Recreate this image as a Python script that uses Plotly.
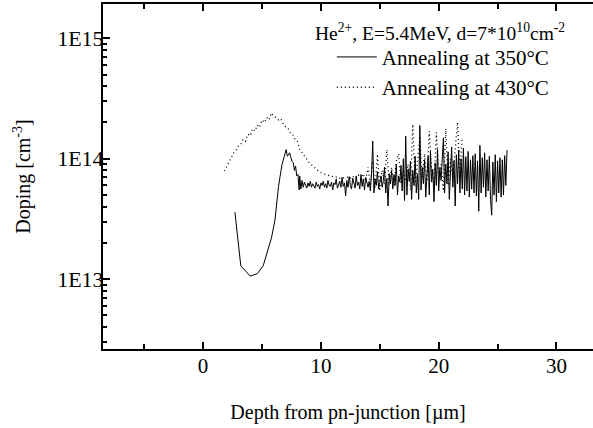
import numpy as np
import plotly.graph_objects as go

# ---- data (doping in units of 1E13 cm^-3) ----
# 350 C, smooth beginning
x350_start = [2.7, 3.2, 4.0, 4.6, 5.1, 5.8, 6.1, 6.4, 6.7, 6.9, 7.05, 7.15, 7.25,
              7.35, 7.45, 7.55, 7.65, 7.75, 7.85, 7.95, 8.05, 8.15]
y350_start = [3.6, 1.29, 1.06, 1.11, 1.29, 2.2, 3.1, 5.9, 9.0, 10.5, 11.9, 10.5, 10.9,
              11.2, 10.2, 9.5, 9.3, 8.0, 8.7, 7.2, 7.4, 5.5]
# 350 C, noisy tail sampled every 0.1 um from 8.2 um
x350_tail_start, x350_tail_step = 8.2, 0.1
y350_tail = [
    7.2, 5.6, 6.6, 5.8, 6.4, 6.0, 5.7, 6.3, 5.9, 6.5,
    5.8, 6.2, 6.0, 5.7, 6.4, 5.9, 6.1, 5.6, 6.3, 6.0,
    6.5, 5.8, 6.2, 5.7, 6.6, 6.0, 5.9, 6.4, 5.5, 6.3,
    6.1, 6.8, 5.7, 6.2, 6.5, 5.8, 7.0, 5.9, 6.3, 4.9,
    6.6, 5.8, 7.1, 6.0, 5.6, 6.9, 6.2, 5.7, 7.2, 6.0,
    6.4, 5.6, 7.4, 5.9, 6.8, 5.5, 7.0, 6.2, 5.8, 6.5,
    5.4, 7.6, 14.0, 5.2, 6.8, 6.0, 7.8, 5.6, 6.4, 7.2,
    5.8, 6.6, 8.5, 5.2, 6.9, 4.05, 7.5, 6.2, 8.0, 5.6,
    7.4, 6.0, 9.0, 5.0, 7.2, 6.4, 8.8, 5.4, 10.0, 4.5,
    15.4, 5.0, 8.2, 6.5, 9.5, 4.6, 8.0, 6.0, 10.5, 5.2,
    7.5, 4.6, 18.9, 5.5, 8.5, 6.2, 9.8, 4.8, 7.2, 10.5,
    5.0, 11.5, 6.4, 8.2, 4.4, 9.2, 6.0, 12.0, 5.4, 8.4,
    6.6, 10.2, 14.9, 5.2, 9.0, 6.2, 11.4, 4.6, 8.4, 12.5,
    5.8, 9.6, 4.05, 10.8, 6.2, 11.8, 5.2, 10.0, 5.6, 12.2,
    5.0, 10.4, 5.4, 11.5, 4.8, 9.8, 5.6, 10.6, 5.2, 11.0,
    4.9, 9.6, 3.67, 12.9, 5.2, 10.2, 5.8, 11.2, 4.8, 9.8,
    5.4, 10.5, 4.6, 3.4, 9.4, 5.0, 10.8, 4.4, 9.6, 5.2,
    10.2, 4.8, 9.8, 5.0, 10.6, 6.0, 11.8,
]
# 430 C, sampled every 0.2 um from 1.8 um
x430_start, x430_step = 1.8, 0.2
y430 = [
    7.9, 8.6, 9.4, 10.2, 11.2, 11.8, 12.8, 13.2, 14.5, 14.0,
    16.0, 15.5, 17.8, 17.0, 19.0, 18.2, 21.0, 20.0, 22.0, 21.0,
    24.0, 22.5, 22.0, 21.0, 21.5, 19.5, 18.5, 18.0, 16.5, 16.0,
    14.5, 14.0, 12.0, 11.2, 10.5, 9.8, 9.3, 8.9, 8.5, 8.2,
    7.9, 7.7, 7.5, 7.4, 7.3, 7.2, 7.2, 7.0, 7.1, 6.9,
    7.0, 6.9, 7.0, 7.1, 6.8, 7.2, 6.9, 7.3, 6.8, 7.5,
    6.5, 8.5, 6.0, 9.5, 5.8, 10.9, 5.4, 8.0, 6.2, 11.9,
    6.0, 8.5, 5.8, 9.5, 11.0, 6.2, 8.0, 6.5, 9.0, 5.5,
    19.3, 6.0, 9.5, 14.9, 7.0, 11.0, 6.5, 16.9, 8.0, 6.2,
    16.5, 7.5, 9.0, 5.4, 17.8, 6.0, 10.0, 7.0, 12.0, 20.1,
    7.5, 15.0,
]

title_text = "He<sup>2+</sup>, E=5.4MeV, d=7*10<sup>10</sup>cm<sup>-2</sup>"
names = ["Annealing at 350°C", "Annealing at 430°C"]
ytick_vals = [1e13, 1e14, 1e15]
ytick_text = ["1E13", "1E14", "1E15"]
xtick_vals = [0, 10, 20, 30]

unit = 1e13
x350 = list(x350_start) + [round(x350_tail_start + i * x350_tail_step, 2) for i in range(len(y350_tail))]
y350 = [v * unit for v in list(y350_start) + y350_tail]
x430 = [round(x430_start + i * x430_step, 2) for i in range(len(y430))]
y430v = [v * unit for v in y430]

FONT = "Liberation Serif, Times New Roman, serif"

fig = go.Figure()
fig.add_trace(go.Scatter(x=x350, y=y350, mode="lines", name=names[0],
                         line=dict(color="black", width=1)))
fig.add_trace(go.Scatter(x=x430, y=y430v, mode="lines", name=names[1],
                         line=dict(color="black", width=1.3, dash="1px,3px")))

minor_y = [m * 10 ** e for e in (12, 13, 14, 15) for m in range(2, 10)]

fig.update_layout(
    width=593, height=428,
    margin=dict(l=103, r=0, t=4, b=79, autoexpand=False),
    paper_bgcolor="white", plot_bgcolor="white",
    font=dict(family=FONT, size=20, color="black"),
    showlegend=True,
    legend=dict(x=0.467, y=0.905, xanchor="left", yanchor="top",
                bgcolor="rgba(0,0,0,0)", borderwidth=0,
                font=dict(family=FONT, size=21, color="black"), itemwidth=40,
                tracegroupgap=0),
    annotations=[dict(text=title_text, xref="paper", yref="paper",
                      x=0.687, y=0.918, xanchor="center", yanchor="middle",
                      showarrow=False, font=dict(family=FONT, size=19.5))],
)
fig.update_xaxes(
    range=[-8.5, 33.1], showgrid=False, zeroline=False, automargin=False,
    showline=True, linecolor="black", linewidth=2, mirror="ticks",
    ticks="inside", ticklen=7, tickwidth=1.5, tickcolor="black",
    tickvals=xtick_vals, ticklabelstandoff=-3,
    minor=dict(ticks="inside", ticklen=5, tickwidth=1.5, dtick=5, tick0=0, tickcolor="black"),
    tickfont=dict(family=FONT, size=21),
    title=dict(text="Depth from pn-junction [µm]", font=dict(family=FONT, size=20), standoff=28),
)
fig.update_yaxes(
    type="log", range=[12.42, 15.285], showgrid=False, zeroline=False, automargin=False,
    showline=True, linecolor="black", linewidth=2,
    ticks="inside", ticklen=7, tickwidth=1.5, tickcolor="black",
    tickvals=ytick_vals, ticktext=ytick_text, ticklabelstandoff=-7,
    minor=dict(ticks="inside", ticklen=4, tickwidth=1.5, tickvals=minor_y, tickcolor="black"),
    tickfont=dict(family=FONT, size=22),
    title=dict(text="Doping [cm<sup>-3</sup>]", font=dict(family=FONT, size=20), standoff=21),
)

fig.write_html("out.html", config={"displayModeBar": False},
               post_script="document.body.style.margin='0px';")
